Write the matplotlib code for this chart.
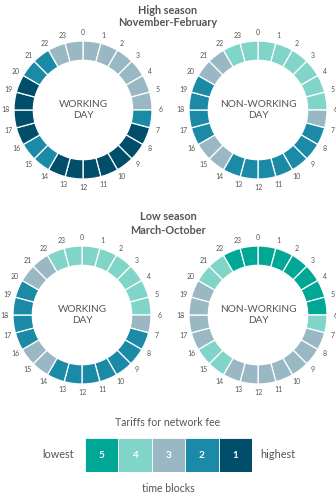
"""Network fee time blocks by hour, high and low season"""
from matplotlib import pyplot as plt
import numpy as np

plt.rcParams['font.family'] = ['Lato', 'DejaVu Sans']

W, H = 336, 499
grey = '#555555'

# tariff block colours, 1 = highest ... 5 = lowest
block_colors = {1: '#004e6a', 2: '#1b8aa7', 3: '#9ab8c3', 4: '#80d4c8', 5: '#00a794'}

hours = list(range(24))
high_working = [3, 3, 3, 3, 3, 3, 2, 1, 1, 1, 1, 1, 1, 1, 2, 2, 1, 1, 1, 1, 2, 2, 3, 3]
high_nonworking = [4, 4, 4, 4, 4, 4, 3, 2, 2, 2, 2, 2, 2, 2, 3, 3, 2, 2, 2, 2, 3, 3, 4, 4]
low_working = [4, 4, 4, 4, 4, 4, 3, 2, 2, 2, 2, 2, 2, 2, 3, 3, 2, 2, 2, 2, 3, 3, 4, 4]
low_nonworking = [5, 5, 5, 5, 5, 5, 4, 3, 3, 3, 3, 3, 3, 3, 4, 4, 3, 3, 3, 3, 4, 4, 5, 5]

legend_blocks = [5, 4, 3, 2, 1]

fig = plt.figure(figsize=(W / 100, H / 100), dpi=100)
fig.patch.set_facecolor('white')


def donut(cx, cy, blocks, label):
    r_px = 69
    half = 92
    ax = fig.add_axes([(cx - half) / W, 1 - (cy + half) / H, 2 * half / W, 2 * half / H])
    ax.pie([1] * len(hours), colors=[block_colors[b] for b in blocks],
           startangle=90, counterclock=False, radius=1,
           wedgeprops=dict(width=0.28, edgecolor='white', linewidth=0.9))
    lim = half / r_px
    ax.set_xlim(-lim, lim)
    ax.set_ylim(-lim, lim)
    ax.set_aspect('equal')
    ax.axis('off')
    for h in hours:
        a = np.deg2rad(90 - h * 15)
        ax.text(1.12 * np.cos(a), 1.12 * np.sin(a), str(h), fontsize=5,
                color=grey, ha='center', va='center')
    ax.text(0, 0, label, fontsize=7.2, color=grey, ha='center', va='center',
            linespacing=1.15)


def ftext(x, y, s, **kw):
    fig.text(x / W, 1 - y / H, s, ha='center', va='center', color=grey, **kw)


ftext(168, 10, 'High season', fontsize=7.8, fontweight='bold')
ftext(168, 23, 'November-February', fontsize=7.8, fontweight='bold')
donut(83, 110, high_working, 'WORKING\nDAY')
donut(258, 110, high_nonworking, 'NON-WORKING\nDAY')

ftext(168, 217, 'Low season', fontsize=7.8, fontweight='bold')
ftext(168, 231, 'March-October', fontsize=7.8, fontweight='bold')
donut(82, 315, low_working, 'WORKING\nDAY')
donut(258, 315, low_nonworking, 'NON-WORKING\nDAY')

# legend
ftext(168, 422, 'Tariffs for network fee', fontsize=7.6)
ftext(58, 455, 'lowest', fontsize=7.8)
ftext(278, 455, 'highest', fontsize=7.8)
ftext(168, 488, 'time blocks', fontsize=7.6)

lax = fig.add_axes([85 / W, 1 - 472 / H, 167 / W, 34 / H])
xs = np.arange(len(legend_blocks))
lax.bar(xs, [1] * len(legend_blocks), width=1,
        color=[block_colors[b] for b in legend_blocks], edgecolor='white', linewidth=0.6)
for x, b in zip(xs, legend_blocks):
    lax.text(x, 0.5, str(b), color='white', fontsize=7.2, fontweight='bold',
             ha='center', va='center')
lax.set_xlim(-0.5, len(legend_blocks) - 0.5)
lax.set_ylim(0, 1)
lax.axis('off')

fig.savefig('out.png', dpi=100)
